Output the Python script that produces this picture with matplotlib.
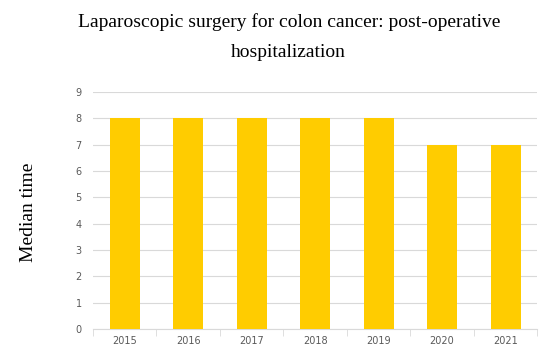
import matplotlib.pyplot as plt
import numpy as np

# data
years = ["2015", "2016", "2017", "2018", "2019", "2020", "2021"]
median_days = [8, 8, 8, 8, 8, 7, 7]

fig = plt.figure(figsize=(5.5, 3.57), dpi=100)
ax = fig.add_axes([0.169, 0.078, 0.808, 0.665])

x = np.arange(len(years))
ax.bar(x, median_days, width=0.47, color="#FFCC00", zorder=3)

ax.set_xlim(-0.5, len(years) - 0.5)
ax.set_ylim(0, 9)
ax.set_yticks(range(0, 10))
ax.set_xticks(x)
ax.set_xticklabels(years)
ax.tick_params(axis="both", labelsize=7, colors="#595959", length=0, pad=8)
ax.tick_params(axis="x", pad=5)

# category boundary ticks
ax.set_xticks(np.arange(-0.5, len(years)), minor=True)
ax.tick_params(axis="x", which="minor", length=5, color="#d9d9d9")

ax.grid(axis="y", color="#d9d9d9", linewidth=0.8, zorder=0)
for s in ["top", "right", "left"]:
    ax.spines[s].set_visible(False)
ax.spines["bottom"].set_color("#d9d9d9")

fig.text(0.525, 0.937, "Laparoscopic surgery for colon cancer: post-operative",
         ha="center", va="center", fontsize=14, family="Liberation Serif")
fig.text(0.525, 0.853, "hospitalization",
         ha="center", va="center", fontsize=14, family="Liberation Serif")
fig.text(0.052, 0.405, "Median time", rotation=90, ha="center", va="center",
         fontsize=14, family="Liberation Serif")

fig.savefig("out.png", dpi=100)
